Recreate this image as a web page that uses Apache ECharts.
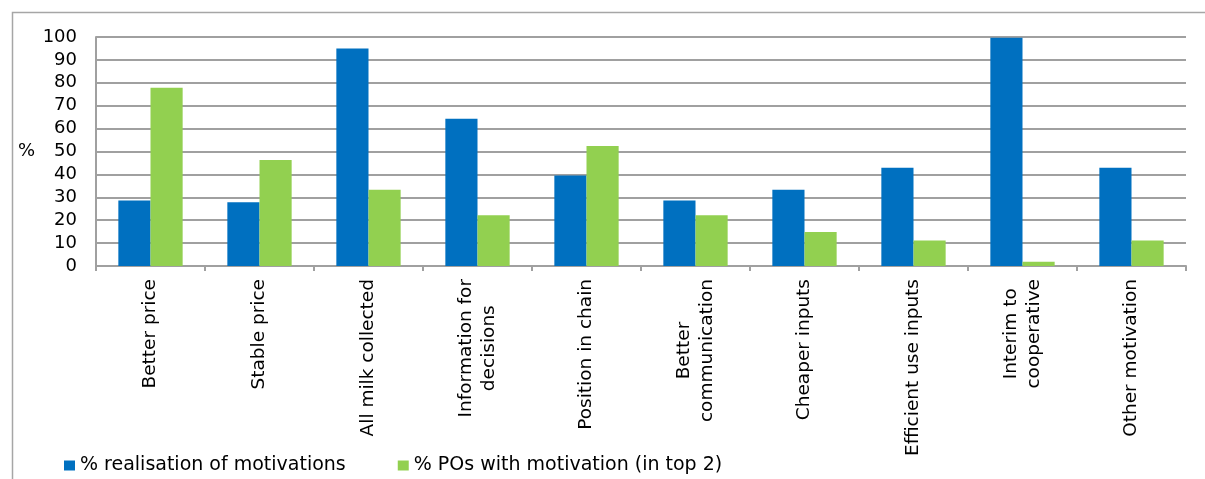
<!DOCTYPE html>
<html>
<head>
<meta charset="utf-8">
<script src="https://cdn.jsdelivr.net/npm/echarts@6/dist/echarts.min.js"></script>
<style>
html,body{margin:0;padding:0;background:#fff;}
#chart{width:1205px;height:479px;}
</style>
</head>
<body>
<div id="chart"></div>
<script>
const categories = [
  'Better price', 'Stable price', 'All milk collected', 'Information for\ndecisions',
  'Position in chain', 'Better\ncommunication', 'Cheaper inputs', 'Efficient use inputs',
  'Interim to\ncooperative', 'Other motivation'
];
const seriesNames = ['% realisation of motivations', '% POs with motivation (in top 2)'];
const realisation = [28.6, 27.8, 95.0, 64.3, 39.5, 28.6, 33.3, 42.9, 99.7, 42.9];
const poMotivation = [77.8, 46.3, 33.3, 22.2, 52.4, 22.2, 14.8, 11.1, 1.9, 11.1];
const yTicks = [0, 10, 20, 30, 40, 50, 60, 70, 80, 90, 100];

const FONT = '"DejaVu Sans", Verdana, sans-serif';
const chart = echarts.init(document.getElementById('chart'), null, {renderer: 'canvas'});
chart.setOption({
  animation: false,
  backgroundColor: '#fff',
  textStyle: {fontFamily: FONT, color: '#000'},
  graphic: [{
    type: 'rect', left: 10, top: 10,
    shape: {x: 0, y: 0, width: 1300, height: 600},
    style: {fill: 'none', stroke: '#a6a6a6', lineWidth: 1.5},
    silent: true, z: -10
  }],
  grid: {left: 96, right: 19, top: 37, bottom: 213},
  legend: {
    left: 59, top: 451,
    itemWidth: 11, itemHeight: 10, itemGap: 52,
    icon: 'rect',
    textStyle: {fontFamily: FONT, fontSize: 19, color: '#000'},
    data: seriesNames
  },
  xAxis: {
    type: 'category',
    data: categories,
    axisLine: {lineStyle: {color: '#a0a0a0', width: 2}},
    axisTick: {show: true, length: 5, lineStyle: {color: '#a0a0a0', width: 2}},
    axisLabel: {
      interval: 0, rotate: 90, margin: 13,
      fontFamily: FONT, fontSize: 18.5, color: '#000',
      formatter: function (v) {
        return v.split('\n').map(function (s) { return '{c|' + s + '}'; }).join('\n');
      },
      rich: {c: {align: 'center', fontFamily: FONT, fontSize: 18.5, color: '#000', lineHeight: 23}}
    }
  },
  yAxis: {
    type: 'value', min: 0, max: 100, interval: 10,
    name: '%', nameLocation: 'middle', nameRotate: 0, nameGap: 61,
    nameTextStyle: {fontFamily: FONT, fontSize: 18, color: '#000', padding: [6, 0, 0, 0]},
    axisLine: {show: true, lineStyle: {color: '#a0a0a0', width: 2}},
    axisTick: {show: false},
    axisLabel: {
      margin: 19, fontFamily: FONT, fontSize: 18, color: '#000',
      formatter: function (v) { return yTicks.indexOf(v) >= 0 ? String(v) : ''; }
    },
    splitLine: {lineStyle: {color: '#a0a0a0', width: 2}}
  },
  series: [
    {name: seriesNames[0], type: 'bar', data: realisation, barGap: '0%', barCategoryGap: '41%',
     itemStyle: {color: '#0070C0'}},
    {name: seriesNames[1], type: 'bar', data: poMotivation, barGap: '0%', barCategoryGap: '41%',
     itemStyle: {color: '#92D050'}}
  ]
});
</script>
</body>
</html>
